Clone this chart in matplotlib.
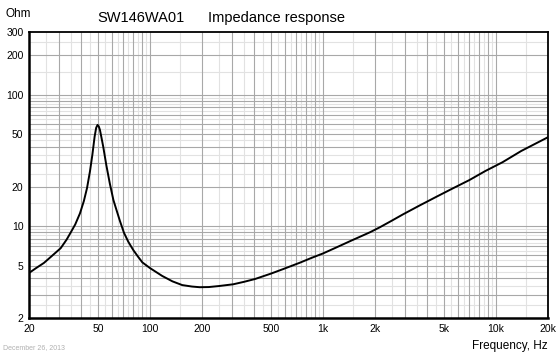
import matplotlib
matplotlib.use("Agg")
import matplotlib.pyplot as plt
from matplotlib.ticker import FixedLocator, FixedFormatter, NullLocator

plt.rcParams['font.family'] = ['Liberation Sans', 'DejaVu Sans']

# impedance curve
freq = [20, 22, 24.4, 27, 30.5, 33, 34.6, 37, 39.4, 41.5, 43.3, 45, 46.5,
        47.9, 48.9, 49.8, 50.6, 51.4, 52.5, 53.7, 56, 58.6, 61.5, 63.6, 67,
        70.8, 75, 80, 85, 90.4, 100, 117.7, 135, 153.7, 175, 194, 219, 250, 303,
        350, 405, 500, 591, 736, 850, 1002, 1200, 1440, 1870, 2132, 2500, 2906,
        3600, 4517, 5600, 7018, 8700, 10900, 14000, 20000]
imp = [4.4, 4.8, 5.25, 5.9, 6.8, 7.9, 8.8, 10.3, 12.5, 15.5, 19.5, 26, 35,
       48, 56, 58.9, 57.5, 54, 47, 40.3, 29, 21.2, 15.8, 13.7, 11,
       8.9, 7.6, 6.6, 5.9, 5.3, 4.8, 4.18, 3.8, 3.56, 3.47, 3.43, 3.44, 3.5, 3.61,
       3.77, 3.96, 4.35, 4.72, 5.27, 5.7, 6.2, 6.9, 7.7, 8.98, 9.8, 11.0, 12.3,
       14.3, 16.7, 19.3, 22.4, 26.3, 30.6, 37.3, 47.5]

x_ticks = [20, 50, 100, 200, 500, 1000, 2000, 5000, 10000, 20000]
x_labels = ['20', '50', '100', '200', '500', '1k', '2k', '5k', '10k', '20k']
y_ticks = [2, 5, 10, 20, 50, 100, 200, 300]
y_labels = ['2', '5', '10', '20', '50', '100', '200', '300']

fig = plt.figure(figsize=(5.6, 3.54), dpi=100)
ax = fig.add_axes([29 / 560, 36 / 354, 519 / 560, 286 / 354])
ax.set_xscale('log')
ax.set_yscale('log')
ax.set_xlim(20, 20000)
ax.set_ylim(2, 300)

# grid: dark lines at 1..9 per decade, light ones at the half steps
for dec in [10, 100, 1000, 10000]:
    for m in range(1, 10):
        v = m * dec
        if 20 < v < 20000:
            ax.axvline(v, color='#a8a8a8', lw=0.8, zorder=1)
        h = (m + 0.5) * dec
        if 20 < h < 20000:
            ax.axvline(h, color='#e2e2e2', lw=0.8, zorder=0)
for dec in [1, 10, 100]:
    for m in range(1, 10):
        v = m * dec
        if 2 < v < 300:
            ax.axhline(v, color='#a8a8a8', lw=0.8, zorder=1)
        h = (m + 0.5) * dec
        if 2 < h < 300:
            ax.axhline(h, color='#e2e2e2', lw=0.8, zorder=0)

ax.plot(freq, imp, color='black', lw=1.4, zorder=3,
        solid_joinstyle='round', solid_capstyle='round')

ax.xaxis.set_major_locator(FixedLocator(x_ticks))
ax.xaxis.set_major_formatter(FixedFormatter(x_labels))
ax.xaxis.set_minor_locator(NullLocator())
ax.yaxis.set_major_locator(FixedLocator(y_ticks))
ax.yaxis.set_major_formatter(FixedFormatter(y_labels))
ax.yaxis.set_minor_locator(NullLocator())
ax.tick_params(length=0, labelsize=7.5, pad=4)

for s in ['left', 'bottom']:
    ax.spines[s].set_linewidth(1.8)
for s in ['top', 'right']:
    ax.spines[s].set_linewidth(1.3)

fig.text(6 / 560, 1 - 14 / 354, 'Ohm', fontsize=8.5, va='center', ha='left')
fig.text(97 / 560, 1 - 18 / 354, 'SW146WA01', fontsize=10.5, va='center', ha='left')
fig.text(208 / 560, 1 - 18 / 354, 'Impedance response', fontsize=10.5, va='center', ha='left')
fig.text(548 / 560, 1 - 346 / 354, 'Frequency, Hz', fontsize=8.5, va='center', ha='right')
fig.text(3 / 560, 1 - 348 / 354, 'December 26, 2013', fontsize=5, color='#b0b0b0',
         va='center', ha='left')

fig.savefig('out.png', dpi=100)
